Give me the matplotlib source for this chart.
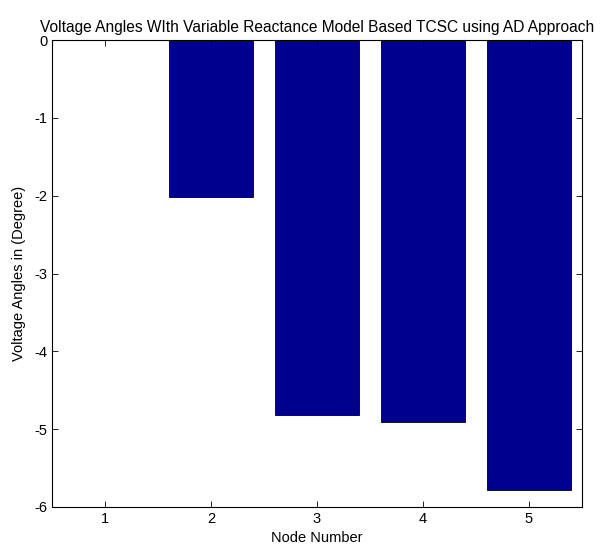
import numpy as np
import matplotlib
matplotlib.use("Agg")
import matplotlib.pyplot as plt

# data
nodes = [1, 2, 3, 4, 5]
angles = [0.0, -2.02, -4.82, -4.91, -5.78]
y_ticks = [0, -1, -2, -3, -4, -5, -6]

plt.rcParams['font.family'] = ['Liberation Sans', 'DejaVu Sans']
plt.rcParams['axes.unicode_minus'] = False

fig = plt.figure(figsize=(6.06, 5.53), dpi=100)
ax = fig.add_axes([52 / 606, 1 - 507 / 553, 530 / 606, 467 / 553])

ax.bar(nodes, angles, width=0.8, color='#00008F', edgecolor='black', linewidth=0.6)

ax.set_xlim(0.5, 5.5)
ax.set_ylim(-6, 0)
ax.set_xticks(nodes)
ax.set_yticks(y_ticks)
ax.tick_params(direction='in', length=4, width=0.6, labelsize=10.5,
               top=True, right=True)
for s in ax.spines.values():
    s.set_linewidth(0.8)

ax.set_title("Voltage Angles WIth Variable Reactance Model Based TCSC using AD Approach",
             fontsize=11.2, pad=6)
ax.set_xlabel("Node Number", fontsize=10.5, labelpad=4)
ax.set_ylabel("Voltage Angles in (Degree)", fontsize=10.5, labelpad=6)

fig.savefig("out.png", dpi=100)
